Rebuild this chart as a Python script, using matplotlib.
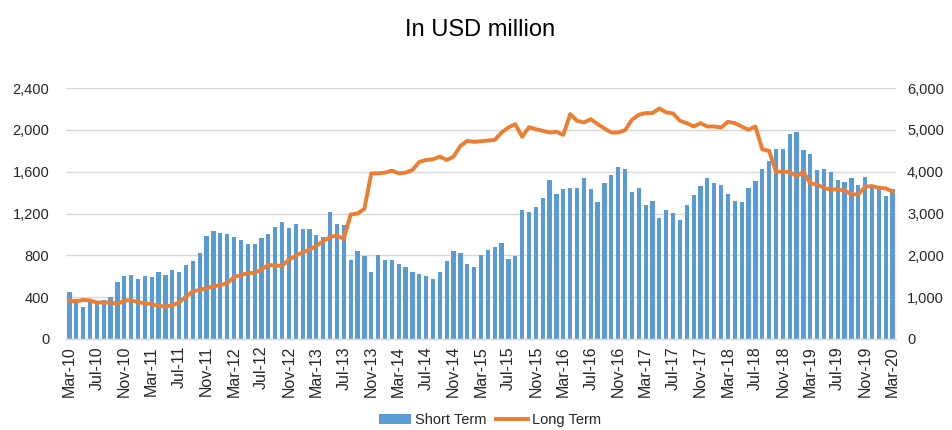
import numpy as np
import pandas as pd
import matplotlib
matplotlib.use("Agg")
import matplotlib.pyplot as plt
from matplotlib.ticker import FuncFormatter
from matplotlib.patches import Patch
from matplotlib.lines import Line2D

plt.rcParams['font.family'] = ['Liberation Sans', 'DejaVu Sans']

# months Mar-10 .. Mar-20
months = pd.date_range('2010-03-01', '2020-03-01', freq='MS')
month_labels = [d.strftime('%b-%y') for d in months]

# short term (left axis, USD million)
short_term = [
    451, 384, 307, 358, 333, 374, 406, 544, 605, 614,
    576, 598, 592, 637, 614, 659, 643, 704, 749, 826,
    989, 1037, 1018, 1002, 973, 950, 912, 906, 970, 1008,
    1075, 1120, 1062, 1104, 1050, 1050, 998, 979, 1213, 1104,
    1094, 758, 838, 797, 637, 806, 752, 752, 717, 691,
    637, 621, 598, 576, 637, 746, 842, 819, 717, 691,
    803, 848, 877, 918, 768, 797, 1235, 1219, 1258, 1344,
    1520, 1389, 1434, 1440, 1440, 1542, 1434, 1309, 1494, 1565,
    1648, 1629, 1402, 1446, 1277, 1322, 1155, 1235, 1206, 1139,
    1283, 1373, 1462, 1536, 1491, 1475, 1389, 1315, 1309, 1440,
    1514, 1629, 1702, 1821, 1821, 1958, 1984, 1805, 1766, 1616,
    1622, 1600, 1520, 1498, 1536, 1469, 1549, 1456, 1446, 1366,
    1430,
]

# long term (right axis, USD million)
long_term = [
    920, 896, 936, 920, 872, 872, 872, 840, 920, 928,
    880, 856, 832, 792, 776, 808, 872, 1016, 1136, 1176,
    1216, 1256, 1288, 1336, 1480, 1528, 1576, 1584, 1656, 1776,
    1752, 1752, 1896, 1992, 2072, 2136, 2232, 2336, 2440, 2472,
    2392, 2976, 3000, 3112, 3960, 3960, 3976, 4024, 3960, 3976,
    4040, 4232, 4280, 4296, 4360, 4280, 4360, 4616, 4736, 4712,
    4728, 4744, 4760, 4936, 5056, 5136, 4832, 5064, 5016, 4976,
    4936, 4952, 4880, 5376, 5216, 5176, 5256, 5136, 5032, 4936,
    4936, 4992, 5240, 5360, 5400, 5400, 5512, 5416, 5392, 5216,
    5160, 5080, 5160, 5080, 5080, 5056, 5192, 5160, 5080, 5000,
    5080, 4536, 4496, 4000, 4000, 3992, 3896, 3992, 3720, 3696,
    3608, 3576, 3576, 3552, 3456, 3456, 3640, 3656, 3616, 3600,
    3520,
]

bar_color = '#5B9BD5'
line_color = '#ED7D31'
grid_color = '#D9D9D9'
text_color = '#262626'

W, H = 952, 430
fig = plt.figure(figsize=(W / 100, H / 100), dpi=100)
ax = fig.add_axes([66 / W, (H - 339) / H, 830 / W, 251 / H])

x = np.arange(len(months))
ax.bar(x, short_term, width=0.62, color=bar_color, zorder=2)
ax.set_xlim(-0.5, len(months) - 0.5)
ax.set_ylim(0, 2400)
ax.set_yticks(np.arange(0, 2401, 400))
ax.yaxis.set_major_formatter(FuncFormatter(lambda v, p: f'{int(v):,}'))
ax.grid(axis='y', color=grid_color, linewidth=1, zorder=0)
ax.set_axisbelow(True)

ax.set_xticks(x[::4])
ax.set_xticklabels(month_labels[::4], rotation=90)

ax2 = ax.twinx()
ax2.plot(x, long_term, color=line_color, linewidth=2.8, solid_joinstyle='round')
ax2.set_ylim(0, 6000)
ax2.set_yticks(np.arange(0, 6001, 1000))
ax2.yaxis.set_major_formatter(FuncFormatter(lambda v, p: f'{int(v):,}'))

for a in (ax, ax2):
    for s in ['top', 'left', 'right']:
        a.spines[s].set_visible(False)
    a.spines['bottom'].set_color(grid_color)
    a.spines['bottom'].set_linewidth(1)
    a.tick_params(length=0, labelsize=10.5, colors=text_color)
ax.tick_params(axis='y', pad=12)
ax.tick_params(axis='x', pad=5, labelsize=11.5)
ax2.tick_params(axis='y', pad=8)

fig.text(480 / W, 1 - 30 / H, 'In USD million', ha='center', va='center',
         fontsize=17, color='black')

handles = [Patch(facecolor=bar_color, label='Short Term'),
           Line2D([0], [0], color=line_color, linewidth=2.8, label='Long Term')]
fig.legend(handles=handles, loc='center', bbox_to_anchor=(490 / W, 10 / H),
           ncol=2, frameon=False, fontsize=10.5, handlelength=2.2,
           columnspacing=0.6, handletextpad=0.3, labelcolor=text_color,
           borderpad=0.1)

fig.savefig('out.png', dpi=100)
